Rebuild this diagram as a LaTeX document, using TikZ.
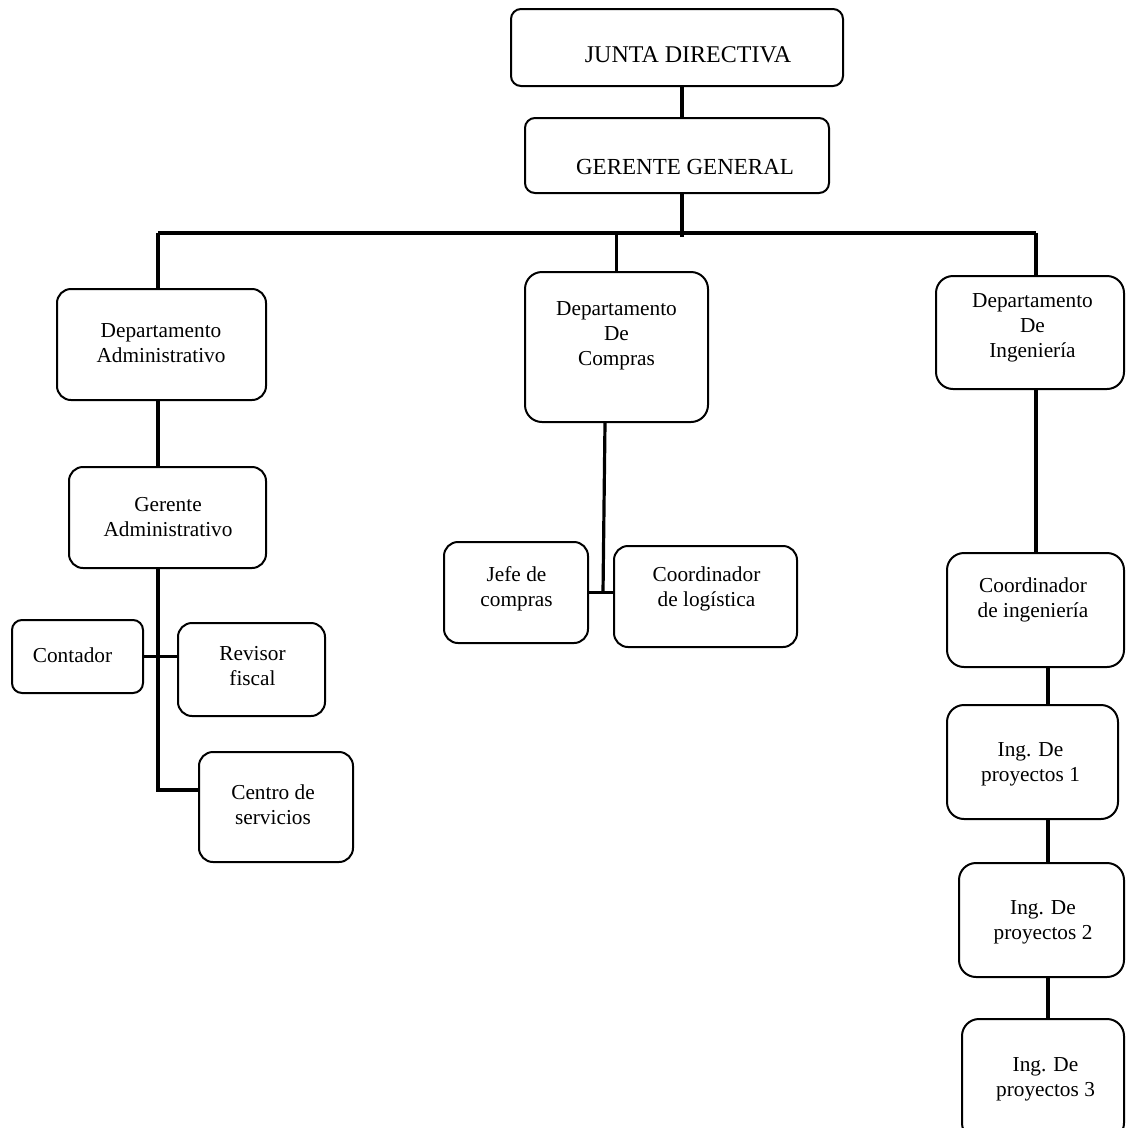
\documentclass[tikz,border=0pt]{standalone}
\usepackage{fontspec}
\setmainfont{Liberation Serif}

\begin{document}
\begin{tikzpicture}[x=1pt,y=1pt,
    caja/.style={draw, line width=2pt, rounded corners=14pt, inner sep=0pt},
    texto/.style={align=center, inner sep=0pt, font=\fontsize{21.3}{25}\selectfont},
    linea/.style={line width=3.2pt}]

\useasboundingbox (0,0) rectangle (1126,-1128);
\clip (0,0) rectangle (1126,-1128);

% draw the boxes

%% direccion
\node[caja, rounded corners=10pt, minimum width=332pt, minimum height=77pt] (jd) at (677,-47.5) {};
\node[caja, rounded corners=10pt, minimum width=304pt, minimum height=75pt] (gg) at (677,-155.5) {};

%% rama administrativa
\node[caja, minimum width=209pt, minimum height=111pt] (da) at (161.5,-344.5) {};
\node[caja, minimum width=197pt, minimum height=101pt] (ga) at (167.5,-517.5) {};
\node[caja, rounded corners=10pt, minimum width=131pt, minimum height=73pt] (ct) at (77.5,-656.5) {};
\node[caja, minimum width=147pt, minimum height=93pt] (rf) at (251.5,-669.5) {};
\node[caja, minimum width=154pt, minimum height=110pt] (cs) at (276,-807) {};

%% rama compras
\node[caja, rounded corners=17pt, minimum width=183pt, minimum height=150pt] (dc) at (616.5,-347) {};
\node[caja, minimum width=144pt, minimum height=101pt] (jc) at (516,-592.5) {};
\node[caja, minimum width=183pt, minimum height=101pt] (cl) at (705.5,-596.5) {};

%% rama ingenieria
\node[caja, rounded corners=17pt, minimum width=188pt, minimum height=113pt] (di) at (1030,-332.5) {};
\node[caja, rounded corners=17pt, minimum width=177pt, minimum height=114pt] (ci) at (1035.5,-610) {};
\node[caja, rounded corners=17pt, minimum width=171pt, minimum height=114pt] (p1) at (1032.5,-762) {};
\node[caja, rounded corners=17pt, minimum width=165pt, minimum height=114pt] (p2) at (1041.5,-920) {};
\node[caja, rounded corners=17pt, minimum width=162pt, minimum height=121pt] (p3) at (1043,-1079.5) {};

% texts
\node[texto, font=\fontsize{24}{28}\selectfont] (jd-t) at (688,-54.5) {JUNTA DIRECTIVA};
\node[texto, font=\fontsize{23}{27}\selectfont] (gg-t) at (685,-166.5) {GERENTE GENERAL};
\node[texto] (da-t) at (161,-343) {Departamento\\Administrativo};
\node[texto] (ga-t) at (168,-517) {Gerente\\Administrativo};
\node[texto] (ct-t) at (72.5,-655) {Contador};
\node[texto] (rf-t) at (252.5,-666.5) {Revisor\\fiscal};
\node[texto] (cs-t) at (273,-805) {Centro de\\servicios};
\node[texto] (dc-t) at (616.5,-336) {Departamento\\De\\Compras};
\node[texto] (jc-t) at (516.5,-589) {Jefe de\\compras};
\node[texto] (cl-t) at (706.5,-589) {Coordinador\\de logística};
\node[texto] (di-t) at (1032.5,-328) {Departamento\\De\\Ingeniería};
\node[texto] (ci-t) at (1033,-600) {Coordinador\\de ingeniería};
\node[texto] (p1-t) at (1030.5,-764.5) {Ing. De\\proyectos 1};
\node[texto] (p2-t) at (1043,-922.5) {Ing. De\\proyectos 2};
\node[texto] (p3-t) at (1045.5,-1079.5) {Ing. De\\proyectos 3};

% connectors
\coordinate (eje) at (682,-237);
\coordinate (busL) at (158,-233);
\coordinate (busR) at (1036,-233);
\coordinate (esq) at (158,-790);
\coordinate (nudo) at (603,-593);
\coordinate (ingx) at (1048,0);

\draw[linea] (jd.south -| eje) -- (gg.north -| eje);
\draw[linea] (gg.south -| eje) -- (eje);
\draw[linea] (busL) -- (busR);
\draw[linea] (busL) -- (busL |- da.north);
\draw[linea] (dc.north |- busL) -- (dc.north);
\draw[linea] (busR) -- (busR |- di.north);

%% administrativa
\draw[linea] (busL |- da.south) -- (busL |- ga.north);
\draw[linea] (busL |- ga.south) -- (esq) -- (esq -| cs.west);
\draw[linea] (ct.east) -- (rf.west |- ct.east);

%% compras
\draw[linea] ([xshift=-11.5pt]dc.south) -- (nudo);
\draw[linea] (jc.east) -- (cl.west |- jc.east);

%% ingenieria
\draw[linea] (busR |- di.south) -- (busR |- ci.north);
\draw[linea] (ingx |- ci.south) -- (ingx |- p1.north);
\draw[linea] (ingx |- p1.south) -- (ingx |- p2.north);
\draw[linea] (ingx |- p2.south) -- (ingx |- p3.north);

\end{tikzpicture}
\end{document}
